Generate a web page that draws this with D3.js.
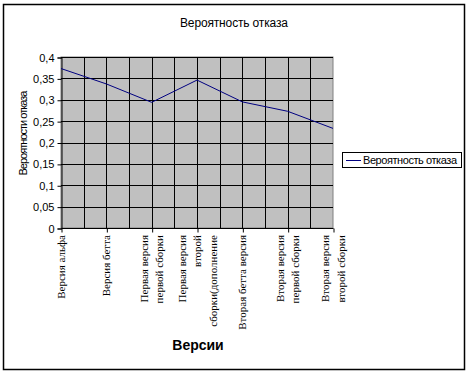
<!DOCTYPE html>
<html>
<head>
<meta charset="utf-8">
<script src="https://cdn.jsdelivr.net/npm/d3@7"></script>
<style>
  body { margin: 0; background: #fff; }
  text { font-family: "Liberation Sans", Arial, sans-serif; }
</style>
</head>
<body>
<div id="chart"></div>
<script>
// категории (строки подписей) и значения
var categories = [
    ["Версия альфа"],
    ["Версия бетта"],
    ["Первая версия", "первой сборки"],
    ["Первая версия", "второй", "сборки(дополнение"],
    ["Вторая бетта версия"],
    ["Вторая версия", "первой сборки"],
    ["Вторая версия", "второй сборки"]
]
var values = [0.373, 0.337, 0.294, 0.346, 0.295, 0.273, 0.233]
var yTicks = [0, 0.05, 0.1, 0.15, 0.2, 0.25, 0.3, 0.35, 0.4]
var seriesName = "Вероятность отказа"

const W = 469, H = 375
const plot = {left: 61, top: 57, right: 333, bottom: 228}

var svg = d3.select("#chart").append("svg").attr("width", W).attr("height", H)

// outer frame
svg.append("rect").attr("x", 3.5).attr("y", 4.5).attr("width", 461).attr("height", 365)
    .attr("fill", "#fff").attr("stroke", "#000").attr("stroke-width", 1.5)

var x = d3.scalePoint().domain(d3.range(categories.length)).range([plot.left, plot.right])
var y = d3.scaleLinear().domain([0, 0.4]).range([plot.bottom, plot.top])

// plot area
svg.append("rect").attr("x", plot.left).attr("y", plot.top)
    .attr("width", plot.right - plot.left).attr("height", plot.bottom - plot.top)
    .attr("fill", "#c0c0c0").attr("stroke", "#808080")

// vertical gridlines, every half category step
var step = x.step()
var vLines = d3.range(1, (categories.length - 1) * 2).map(i => plot.left + i * step / 2)
svg.selectAll("line.vg").data(vLines).enter().append("line")
    .attr("x1", d => Math.round(d) + 0.5).attr("x2", d => Math.round(d) + 0.5)
    .attr("y1", plot.top).attr("y2", plot.bottom)
    .attr("stroke", "#000")

// horizontal gridlines
svg.selectAll("line.hg").data(yTicks.slice(1)).enter().append("line")
    .attr("x1", plot.left).attr("x2", plot.right)
    .attr("y1", d => Math.round(y(d)) + 0.5).attr("y2", d => Math.round(y(d)) + 0.5)
    .attr("stroke", "#000")

// y axis
var yAxis = d3.axisLeft(y).tickValues(yTicks).tickSize(4).tickPadding(3)
    .tickFormat(d => d3.format("")(d).replace(".", ","))
var gy = svg.append("g").attr("transform", "translate(" + (plot.left + 0.5) + ",0.5)").call(yAxis)
gy.select(".domain").attr("stroke", "#000")
gy.selectAll("text").style("font-size", "11px").attr("fill", "#000")

// x axis
var xAxis = d3.axisBottom(x).tickSize(4).tickFormat("")
var gx = svg.append("g").attr("transform", "translate(0.5," + (plot.bottom + 0.5) + ")").call(xAxis)
gx.select(".domain").attr("d", "M" + (plot.left) + ",0H" + (plot.right))

// category labels, rotated, lines stacked across the tick
categories.forEach(function (lines, i) {
    var n = lines.length, lh = 15.5
    lines.forEach(function (t, j) {
        var cx = x(i) + (j - (n - 1) / 2) * lh + 4
        svg.append("text")
            .attr("transform", "translate(" + cx + ",235) rotate(-90)")
            .attr("text-anchor", "end")
            .style("font-family", "'Liberation Serif', 'Times New Roman', serif")
            .style("font-size", "11px")
            .text(t)
    })
})

// series line
var line = d3.line().x((d, i) => x(i)).y(d => y(d))
svg.append("path").datum(values).attr("d", line)
    .attr("fill", "none").attr("stroke", "#000080").attr("stroke-width", 1)

// title
svg.append("text").attr("x", 234).attr("y", 27).attr("text-anchor", "middle")
    .style("font-size", "12px").attr("textLength", 108).text("Вероятность отказа")

// y label
svg.append("text").attr("transform", "translate(27,133) rotate(-90)")
    .attr("text-anchor", "middle").style("font-size", "11px")
    .attr("textLength", 85).text("Вероятности отказа")

// x label
svg.append("text").attr("x", 198).attr("y", 350).attr("text-anchor", "middle")
    .style("font-size", "14px").style("font-weight", "bold").text("Версии")

// legend
var lg = svg.append("g").attr("transform", "translate(342,152)")
lg.append("rect").attr("x", 0.5).attr("y", 0.5).attr("width", 119).attr("height", 15)
    .attr("fill", "#fff").attr("stroke", "#000")
lg.append("line").attr("x1", 4).attr("x2", 19).attr("y1", 8.5).attr("y2", 8.5)
    .attr("stroke", "#000080")
lg.append("text").attr("x", 21).attr("y", 12).style("font-size", "11px")
    .attr("textLength", 94).text(seriesName)
</script>
</body>
</html>
